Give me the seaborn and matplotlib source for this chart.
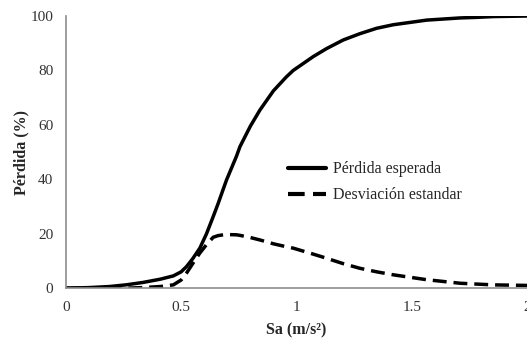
import matplotlib
matplotlib.use("Agg")
import matplotlib.pyplot as plt
import pandas as pd
import seaborn as sns

# Sa values (m/s2)
sa = [0.0, 0.1, 0.19, 0.26, 0.335, 0.41, 0.466, 0.5, 0.523, 0.55, 0.581, 0.61, 0.639, 0.66,
      0.683, 0.697, 0.74, 0.755, 0.8, 0.842, 0.9, 0.957, 0.986, 1.073, 1.13, 1.203, 1.275,
      1.348, 1.42, 1.565, 1.71, 1.78, 1.854, 2.0]
# expected loss (%)
perdida = [0.0, 0.2, 0.6, 1.2, 2.1, 3.3, 4.5, 6.0, 7.9, 10.8, 14.7, 20.0, 26.3, 31.0,
           36.5, 39.8, 48.5, 52.0, 59.5, 65.5, 72.5, 77.7, 80.0, 85.1, 88.0, 91.2, 93.5,
           95.5, 96.8, 98.5, 99.3, 99.5, 99.8, 100.0]
# standard deviation (%)
desviacion = [0.0, 0.0, 0.0, 0.0, 0.2, 0.6, 1.2, 3.0, 5.5, 9.0, 12.9, 16.0, 18.7, 19.3,
              19.6, 19.7, 19.6, 19.4, 18.6, 17.7, 16.3, 15.2, 14.7, 12.5, 11.0, 9.0, 7.3,
              6.0, 4.9, 3.1, 1.8, 1.5, 1.2, 1.0]

df = pd.DataFrame({"Sa": sa, "Pérdida esperada": perdida, "Desviación estandar": desviacion})
long = df.melt(id_vars="Sa", var_name="serie", value_name="valor")

sns.set_style("white")
plt.rcParams["font.family"] = ["Liberation Serif", "DejaVu Serif"]
plt.rcParams["font.size"] = 11

fig = plt.figure(figsize=(5.27, 3.41), dpi=100)
ax = fig.add_axes([0.125, 0.155, 0.875, 0.798])

sns.lineplot(data=long, x="Sa", y="valor", hue="serie", style="serie",
             palette=["black", "black"], dashes=[(None, None), (4, 2)],
             linewidth=2.5, ax=ax)

ax.set_xlim(0, 2)
ax.set_ylim(0, 100)
ax.set_xticks([0, 0.5, 1, 1.5, 2])
ax.set_xticklabels(["0", "0.5", "1", "1.5", "2"])
ax.set_yticks([0, 20, 40, 60, 80, 100])
ax.tick_params(length=0, labelsize=11, colors="#333333", pad=9)
ax.set_xlabel("Sa (m/s²)", fontweight="bold", fontsize=11.5, labelpad=6)
ax.set_ylabel("Pérdida (%)", fontweight="bold", fontsize=11.5, labelpad=1)

for side in ["top", "right"]:
    ax.spines[side].set_visible(False)
for side in ["left", "bottom"]:
    ax.spines[side].set_color("#8c8c8c")
    ax.spines[side].set_linewidth(1.2)

leg = ax.legend(loc="upper left", bbox_to_anchor=(0.468, 0.49), frameon=False,
                fontsize=11.5, handlelength=2.4, labelspacing=0.62, handletextpad=0.4,
                borderaxespad=0.0)
for line in leg.get_lines():
    line.set_linewidth(3)

fig.savefig("out.png", dpi=100)
